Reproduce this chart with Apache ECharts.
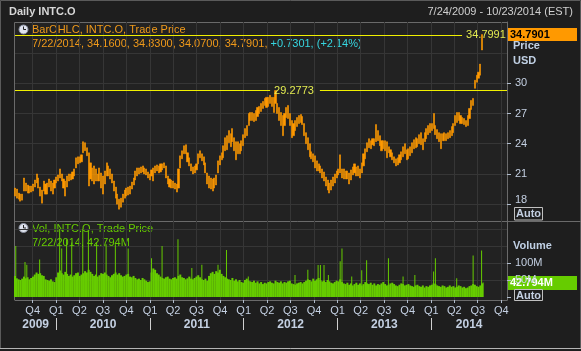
<!DOCTYPE html>
<html>
<head>
<meta charset="utf-8">
<title>Daily INTC.O</title>
<script src="https://cdn.jsdelivr.net/npm/echarts@6/dist/echarts.min.js"></script>
<style>
html, body { margin: 0; padding: 0; background: #1e1e1e; }
#chart { width: 581px; height: 351px; }
</style>
</head>
<body>
<div id="chart"></div>
<script>
// weekly bars, first week starts 7/24/2009
var lo2009 = [18.8,18.6,18.5,18.3,18.4,19.3,19.3,19.1,19.1,19.2,19.3,19.7,20.1,19.6,18.8,18.1,19.3,19.0,19.0,19.7,19.3,19.0,19.6];
var hi2009 = [19.6,19.5,19.1,19.0,19.0,20.6,20.1,19.9,19.8,19.8,20.0,20.4,21.0,20.6,19.7,19.4,20.3,20.0,20.1,20.5,20.3,20.1,20.4];
var lo2010 = [20.1,20.3,20.6,20.3,19.6,18.8,19.7,20.3,20.4,20.5,20.8,21.6,22.0,22.1,22.2,23.1,23.3,22.8,19.8,20.5,20.3,20.0,20.3,20.3,20.3,19.6,19.0,20.0,20.8,20.8,20.5,20.1,19.3,18.6,18.0,17.5,17.7,18.2,18.6,18.8,18.9,19.0,19.5,19.9,20.4,20.8,21.0,21.1,21.2,21.0,20.9,20.6,20.4];
var hi2010 = [20.7,20.9,21.5,21.0,20.5,20.3,20.8,21.0,21.0,21.2,21.5,22.6,22.7,22.7,22.9,24.2,24.1,23.6,23.1,22.1,21.6,21.8,21.5,21.0,21.6,21.1,20.8,21.3,22.1,21.8,21.5,21.0,20.3,19.7,19.0,18.5,18.6,19.0,19.4,19.6,19.7,19.8,20.2,20.6,21.3,21.6,21.6,21.7,21.8,21.6,21.5,21.2,21.0];
var lo2011 = [20.8,20.3,21.1,21.3,21.1,21.2,21.4,21.6,20.6,20.0,19.7,19.6,19.6,19.5,19.2,19.6,21.6,22.5,23.0,23.0,22.2,21.8,21.3,21.0,21.1,21.4,22.0,22.6,22.3,21.9,21.1,20.0,19.6,19.5,19.3,19.6,19.9,21.1,21.9,22.4,22.6,23.3,23.4,24.1,23.7,24.2,23.3,22.4,23.0,23.0,23.3,23.8];
var hi2011 = [21.4,21.6,21.8,21.9,21.8,22.0,22.0,22.1,21.8,20.8,20.5,20.4,20.3,20.1,20.0,21.5,22.8,23.3,23.8,23.9,23.1,22.6,22.0,21.7,21.8,22.0,23.0,23.3,23.0,22.7,22.1,21.1,20.8,20.6,20.5,20.6,20.9,22.3,22.8,23.1,23.8,24.6,24.8,25.3,25.0,25.5,24.6,24.2,24.2,24.0,24.3,24.9];
var lo2012 = [24.6,24.8,25.8,26.3,26.3,26.2,26.3,26.7,27.0,27.2,27.5,27.8,27.6,27.7,28.0,27.7,27.1,28.0,27.0,26.3,25.8,24.8,25.8,26.6,26.5,25.8,24.6,24.8,25.3,25.7,26.0,26.1,25.9,24.8,24.0,23.4,22.7,22.5,22.2,21.6,21.3,21.3,21.1,20.6,20.3,19.8,19.4,19.1,19.4,19.8,20.1,20.6];
var hi2012 = [25.5,25.8,27.0,27.1,27.1,27.0,27.3,27.6,27.7,28.0,28.2,28.5,28.6,28.6,28.8,28.6,28.6,29.2773,28.0,27.6,27.1,26.8,27.0,27.6,27.8,27.0,26.3,26.0,26.3,26.6,26.8,26.9,26.7,26.0,25.1,24.6,24.0,23.2,23.0,22.8,22.3,22.0,21.8,21.5,21.2,20.7,20.4,20.1,20.4,20.7,21.0,21.3];
var lo2013 = [20.9,21.1,20.6,20.5,20.5,20.5,20.0,20.4,20.9,21.1,20.8,20.8,20.6,21.1,21.8,22.5,23.2,23.6,23.5,23.9,23.8,24.2,24.3,23.8,23.3,23.5,23.3,22.6,23.1,22.7,22.4,22.1,21.8,21.9,22.1,22.4,22.7,23.0,22.4,22.5,22.8,23.1,23.5,23.6,23.7,24.0,23.9,23.4,24.2,24.5,24.9,25.1];
var hi2013 = [21.5,22.9,21.5,21.5,21.3,21.3,21.1,21.4,21.7,22.0,21.7,21.8,21.5,22.1,23.0,23.5,24.1,24.5,24.3,24.5,24.5,25.9,25.3,24.8,24.3,24.3,24.3,24.2,23.7,23.4,23.1,22.7,22.5,22.6,22.9,23.2,23.7,24.0,23.4,23.5,23.7,24.1,24.4,24.6,24.5,24.9,25.1,24.5,25.1,25.5,25.8,26.0];
var lo2014 = [25.3,25.5,24.9,24.5,24.2,23.5,24.3,24.3,24.3,24.5,24.6,24.8,25.1,25.8,26.1,26.3,26.0,26.0,25.9,25.7,25.8,26.5,27.4,27.8,29.5,30.1,30.5,30.8,33.3];
var hi2014 = [26.0,27.0,25.8,25.4,25.1,25.0,25.0,25.1,25.0,25.1,25.3,25.7,26.0,26.8,27.1,27.1,26.8,26.6,26.5,26.3,26.8,27.5,28.3,28.5,30.3,30.8,31.1,31.9,34.83];

// weekly volume (millions)
var vol2009 = [62,55,52,50,54,60,55,58,52,56,60,66,72,68,70,64,62,52,50,48,52,46,44];
var vol2010 = [58,72,78,70,66,74,68,62,66,60,64,70,72,62,66,70,76,72,80,74,68,62,66,60,64,70,68,72,66,62,58,64,68,72,66,70,64,60,62,66,68,60,58,62,56,52,54,50,56,52,48,44,46];
var vol2011 = [72,84,80,70,66,60,56,54,58,60,54,52,56,58,54,62,66,58,56,52,55,60,54,52,56,60,64,58,52,50,54,48,62,70,74,68,76,72,80,68,62,58,54,52,50,56,48,52,46,50,44,42];
var vol2012 = [50,54,48,46,44,48,42,46,40,44,38,42,40,44,46,42,40,48,44,42,46,40,44,42,46,48,40,38,36,40,42,44,40,44,48,52,50,46,54,48,52,56,50,46,48,44,50,46,42,40,44,48];
var vol2013 = [46,52,44,40,38,42,36,40,34,38,42,36,40,34,38,44,40,38,42,36,40,34,38,36,40,44,38,34,36,40,42,38,34,32,36,40,38,34,36,38,34,32,30,34,36,32,30,34,28,32,30,34];
var vol2014 = [36,40,38,34,32,30,34,32,28,30,34,30,32,28,30,34,32,28,30,26,28,32,34,38,36,32,30,34,40];

// single heavy days
var spikeDays = ['2009-07-27','2009-09-01','2009-09-08','2009-10-28','2010-01-14','2010-01-22','2010-02-10','2010-03-02','2010-04-14','2010-05-06','2010-06-07','2010-07-14','2010-08-19','2010-10-08','2011-01-07','2011-02-17','2011-04-20','2011-06-13','2011-07-22','2011-09-23','2011-10-26','2012-01-19','2012-07-19','2012-09-07','2012-10-17','2012-10-26','2012-11-09','2012-11-26','2013-01-11','2013-01-18','2013-02-25','2013-04-05','2013-04-24','2013-07-18','2013-09-13','2013-10-29','2014-01-10','2014-01-17','2014-04-10','2014-06-13','2014-07-16','2014-07-22'];
var spikeVols = [150,103,95,110,200,143,170,160,200,195,160,155,155,143,114,150,170,85,95,95,138,60,65,80,94,94,94,65,105,143,60,79,108,114,60,65,75,114,55,122,137,42.794];

var lastBar = ['7/22/2014', 34.16, 34.83, 34.07, 34.7901];
var lastChange = [0.7301, 2.14];
var lastVol = 42.794;
var hiLevels = [34.7991, 29.2773];

var priceTicks = [18, 21, 24, 27, 30];
var priceLines = [18, 21, 24, 27, 30, 33];
var volTicks = [0, 50, 100];
var volLabels = [50, 100];
var volLines = [50, 100, 150, 200];
var years = [2009, 2010, 2011, 2012, 2013, 2014];

function day(s) {
    var p = s.split('-');
    return new Date(+p[0], p[1] - 1, +p[2]).getTime();
}

var tMin = day('2009-07-24');
var tMax = day('2014-10-23');

var lows = [].concat(lo2009, lo2010, lo2011, lo2012, lo2013, lo2014);
var highs = [].concat(hi2009, hi2010, hi2011, hi2012, hi2013, hi2014);
var vols = [].concat(vol2009, vol2010, vol2011, vol2012, vol2013, vol2014);

var bars = [];
var volBars = [];
lows.forEach(function (l, i) {
    var t = new Date(2009, 6, 24 + 7 * i).getTime();
    bars.push([t, l, highs[i], l, highs[i]]);
    volBars.push([t, vols[i]]);
});
var spikes = spikeDays.map(function (d, i) {
    return [day(d), spikeVols[i]];
});

var quarterStarts = [];
var yearStarts = [];
var yearMids = [];
years.forEach(function (y) {
    [0, 3, 6, 9].forEach(function (m) {
        var t = new Date(y, m, 1).getTime();
        if (t > tMin && t < tMax) quarterStarts.push(t);
    });
    var a = Math.max(new Date(y, 0, 1).getTime(), tMin);
    var b = Math.min(new Date(y + 1, 0, 1).getTime(), tMax);
    yearMids.push((a + b) / 2);
    if (y > 2009) yearStarts.push(new Date(y, 0, 1).getTime());
});

var FONT = '"Liberation Sans", Arial, sans-serif';
var orange = '#ff9900';
var green = '#66cc00';
var axisText = '#c4d0e2';
var gridColor = '#363636';
var frameColor = '#6a6a6a';

function txt(x, y, s, color, weight, size, align) {
    return {
        type: 'text', x: x, y: y, silent: true,
        style: {
            text: s, fill: color,
            font: (weight || 'normal') + ' ' + (size || 11) + 'px ' + FONT,
            textAlign: align || 'left', textVerticalAlign: 'middle'
        }
    };
}
function line(x1, y1, x2, y2, color) {
    return { type: 'line', silent: true, shape: { x1: x1, y1: y1, x2: x2, y2: y2 }, style: { stroke: color, lineWidth: 1 } };
}
function clock(cx, cy) {
    return {
        type: 'group', x: cx, y: cy, silent: true,
        children: [
            { type: 'circle', shape: { cx: 0, cy: 0, r: 4.5 }, style: { fill: '#dfe3ee', stroke: '#8a90a0', lineWidth: 1 } },
            { type: 'line', shape: { x1: 0, y1: 0, x2: 0, y2: -3 }, style: { stroke: '#222', lineWidth: 1 } },
            { type: 'line', shape: { x1: 0, y1: 0, x2: 2.5, y2: 0 }, style: { stroke: '#222', lineWidth: 1 } }
        ]
    };
}
function box(x, y, w, h, fill, stroke) {
    return { type: 'rect', silent: true, shape: { x: x, y: y, width: w, height: h }, style: { fill: fill, stroke: stroke || null, lineWidth: 1 } };
}

var ohlcText = lastBar[0] + ', ' + lastBar.slice(1).map(function (v) { return v.toFixed(4); }).join(', ') + ', ';
var chgText = '+' + lastChange[0].toFixed(4) + ', (+' + lastChange[1].toFixed(2) + '%)';

var myChart = echarts.init(document.getElementById('chart'));
var option = {
    backgroundColor: '#1e1e1e',
    animation: false,
    textStyle: { fontFamily: FONT },
    grid: [
        { left: 15, top: 22, width: 492, height: 199, show: true, backgroundColor: '#222222', borderWidth: 0 },
        { left: 15, top: 221, width: 492, height: 79, show: true, backgroundColor: '#222222', borderWidth: 0 }
    ],
    xAxis: [
        {
            gridIndex: 0, type: 'value', min: tMin, max: tMax,
            axisLine: { show: false },
            axisTick: { show: false, customValues: quarterStarts },
            axisLabel: { show: false },
            splitLine: { show: true, lineStyle: { color: gridColor } }
        },
        {
            gridIndex: 1, type: 'value', min: tMin, max: tMax, position: 'bottom',
            axisLine: { show: true, onZero: false, lineStyle: { color: frameColor } },
            axisTick: { show: true, length: 3, customValues: quarterStarts, lineStyle: { color: '#b0bccc' } },
            axisLabel: {
                customValues: quarterStarts, color: axisText, fontSize: 11, margin: 5,
                formatter: function (v) { return 'Q' + (Math.floor(new Date(v).getMonth() / 3) + 1); }
            },
            splitLine: { show: true, lineStyle: { color: gridColor } }
        },
        {
            gridIndex: 1, type: 'value', min: tMin, max: tMax, position: 'bottom', offset: 18,
            axisLine: { show: false, onZero: false },
            axisTick: { show: true, length: 12, customValues: yearStarts, lineStyle: { color: '#d0d0d0' } },
            axisLabel: {
                customValues: yearMids, color: axisText, fontSize: 12, fontWeight: 'bold', margin: 1,
                formatter: function (v) { return String(new Date(v).getFullYear()); }
            },
            splitLine: { show: false }
        }
    ],
    yAxis: [
        {
            gridIndex: 0, type: 'value', position: 'right', min: 16.33, max: 36.08,
            axisLine: { show: true, lineStyle: { color: frameColor } },
            axisTick: { show: true, length: 4, customValues: priceTicks, lineStyle: { color: '#b0bccc' } },
            axisLabel: {
                customValues: priceTicks, color: axisText, fontSize: 11, margin: 8,
                // lowest label sits a little higher, above the Auto box
                formatter: function (v) { return v === priceTicks[0] ? '{up|' + v + '}' : String(v); },
                rich: { up: { color: axisText, fontSize: 11, padding: [0, 0, 8, 0] } }
            },
            splitLine: { show: false }
        },
        {
            gridIndex: 0, type: 'value', position: 'left', min: 16.33, max: 36.08,
            axisLine: { show: false }, axisTick: { show: false, customValues: priceLines }, axisLabel: { show: false },
            splitLine: { show: true, lineStyle: { color: gridColor } }
        },
        {
            gridIndex: 1, type: 'value', position: 'right', min: -8.8, max: 223.5,
            axisLine: { show: true, onZero: false, lineStyle: { color: frameColor } },
            axisTick: { show: true, length: 4, customValues: volTicks, lineStyle: { color: '#b0bccc' } },
            axisLabel: { customValues: volLabels, color: axisText, fontSize: 11, margin: 8, formatter: '{value}M' },
            splitLine: { show: false }
        },
        {
            gridIndex: 1, type: 'value', position: 'left', min: -8.8, max: 223.5,
            axisLine: { show: false }, axisTick: { show: false, customValues: volLines }, axisLabel: { show: false },
            splitLine: { show: true, lineStyle: { color: gridColor } }
        }
    ],
    series: [
        {
            name: 'BarOHLC', type: 'candlestick', xAxisIndex: 0, yAxisIndex: 0,
            data: bars, barWidth: 1.6,
            itemStyle: { color: orange, color0: orange, borderColor: orange, borderColor0: orange, borderWidth: 0.6 },
            markLine: {
                silent: true, symbol: 'none',
                lineStyle: { color: '#f0f000', width: 1, type: 'solid' },
                label: { show: false },
                emphasis: { disabled: true },
                data: [
                    [{ coord: [tMin, hiLevels[0]], label: { show: true, position: 'end', distance: 4, formatter: String(hiLevels[0]), color: '#e2ea50', fontSize: 11 } },
                     { coord: [day('2014-05-01'), hiLevels[0]] }],
                    [{ coord: [tMin, hiLevels[1]], label: { show: true, position: 'end', distance: 4, formatter: String(hiLevels[1]), color: '#e2ea50', fontSize: 11 } },
                     { coord: [day('2012-04-13'), hiLevels[1]] }],
                    [{ coord: [day('2012-10-24'), hiLevels[1]] }, { coord: [tMax, hiLevels[1]] }]
                ]
            }
        },
        {
            name: 'Vol', type: 'bar', xAxisIndex: 1, yAxisIndex: 2,
            data: volBars, barWidth: 2,
            itemStyle: { color: green }
        },
        {
            name: 'VolDays', type: 'bar', xAxisIndex: 2, yAxisIndex: 2,
            data: spikes, barWidth: 1,
            itemStyle: { color: green }
        }
    ],
    graphic: [
        // window frame and panel borders
        { type: 'rect', silent: true, shape: { x: 0.5, y: 0.5, width: 580, height: 348 }, style: { fill: null, stroke: '#5a5a5a', lineWidth: 1 } },
        line(0, 348.5, 581, 348.5, '#b4b4b4'),
        line(14.5, 22.5, 507, 22.5, frameColor),
        line(14.5, 22.5, 14.5, 300, frameColor),
        line(14.5, 221.5, 581, 221.5, frameColor),

        txt(9, 12, 'Daily INTC.O', '#d8d8d8', 'bold', 11),
        txt(573, 12, '7/24/2009 - 10/23/2014 (EST)', '#d0d0d0', 'normal', 11, 'right'),

        clock(23.5, 29.5),
        txt(32, 30, 'BarOHLC, INTC.O, Trade Price', '#f09a1a'),
        {
            type: 'text', x: 32, y: 43.5, silent: true,
            style: {
                text: '{a|' + ohlcText + '}{b|' + chgText + '}',
                font: '11px ' + FONT, textVerticalAlign: 'middle',
                rich: { a: { fill: '#f09a1a', font: '11px ' + FONT }, b: { fill: '#36d6e0', font: '11px ' + FONT } }
            }
        },
        clock(23.5, 228),
        txt(32, 229, 'Vol, INTC.O, Trade Price', green),
        txt(32, 243, lastBar[0] + ', ' + lastVol.toFixed(3) + 'M', green),

        // right side labels
        box(508, 28, 69, 13, orange),
        txt(510, 34.5, lastBar[4].toFixed(4), '#000000', 'bold', 11),
        txt(513, 46, 'Price', '#c0d0e4', 'bold', 11),
        txt(513, 61, 'USD', '#c0d0e4', 'bold', 11),
        box(514.5, 207.5, 28, 12.5, '#1e1e1e', '#c0c0c0'),
        txt(528.5, 214, 'Auto', '#c4d0e2', 'bold', 11, 'center'),

        txt(513, 246, 'Volume', '#c0d0e4', 'bold', 11),
        box(508, 276, 69, 14, green),
        txt(510, 283, lastVol.toFixed(3) + 'M', '#ffffff', 'bold', 11),
        box(514.5, 289.5, 28, 11, '#1e1e1e', '#c0c0c0'),
        txt(528.5, 295.5, 'Auto', '#c4d0e2', 'bold', 11, 'center')
    ]
};
myChart.setOption(option);
</script>
</body>
</html>
